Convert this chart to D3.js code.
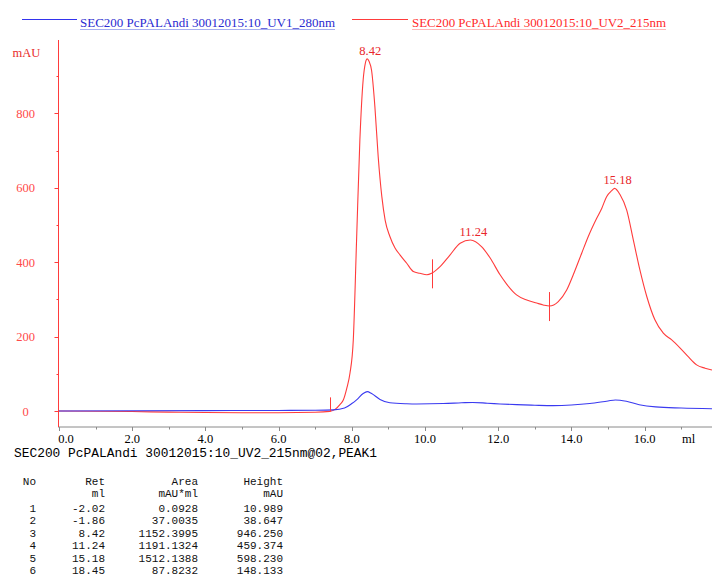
<!DOCTYPE html>
<html><head><meta charset="utf-8">
<script src="https://cdn.jsdelivr.net/npm/d3@7"></script>
<style>
html,body{margin:0;padding:0;background:#fff;}
svg{display:block;}
</style></head>
<body>
<svg id="chart" width="712" height="581"></svg>
<script>
// ---------- data ----------
const legendLabels = ["SEC200 PcPALAndi 30012015:10_UV1_280nm", "SEC200 PcPALAndi 30012015:10_UV2_215nm"];
const xTicks = [0, 2, 4, 6, 8, 10, 12, 14, 16];
const xTickLabels = ["0.0", "2.0", "4.0", "6.0", "8.0", "10.0", "12.0", "14.0", "16.0"];
const yTicks = [0, 200, 400, 600, 800];
const yTickLabels = ["0", "200", "400", "600", "800"];

const uv2Ml = [0, 1.0, 2.0, 3.0, 4.0, 5.0, 6.0, 7.0, 7.40, 7.55, 7.68, 7.77, 7.86, 7.95, 8.04, 8.13, 8.22, 8.31, 8.37, 8.42, 8.47, 8.54, 8.63, 8.72, 8.82, 8.91, 9.04, 9.18, 9.32, 9.50, 9.68, 9.86, 10.05, 10.18, 10.41, 10.68, 10.96, 11.24, 11.55, 11.78, 12.05, 12.23, 12.50, 12.78, 13.05, 13.23, 13.40, 13.64, 13.87, 14.05, 14.28, 14.46, 14.69, 14.83, 14.96, 15.10, 15.18, 15.33, 15.51, 15.69, 15.87, 16.06, 16.28, 16.51, 16.74, 16.97, 17.19, 17.42, 17.65, 17.84];
const uv2MAU = [0, -0.5, -1.5, -3, -4, -4.5, -4.5, -3.5, -1, 5, 18, 30, 60, 102, 191, 460, 728, 890, 935, 946.25, 940, 915, 818, 684, 576, 513, 469, 438, 419, 397, 375, 370, 366, 370, 388, 419, 451, 459.37, 441, 411, 366, 341, 312, 298, 290, 285, 282, 294, 325, 366, 424, 469, 518, 545, 576, 592, 598.23, 581, 540, 460, 379, 307, 245, 209, 191, 169, 146, 124, 115, 110];

const uv1Ml = [0, 2, 4, 6, 7.0, 7.5, 7.8, 8.0, 8.13, 8.31, 8.42, 8.54, 8.77, 9.04, 9.5, 9.77, 10.5, 11.0, 11.3, 11.7, 12.05, 12.5, 13.0, 13.5, 14.0, 14.5, 15.0, 15.2, 15.5, 15.85, 16.3, 17.0, 17.84];
const uv1MAU = [0, 0.5, 1, 1.5, 2, 3, 8, 20, 30, 47, 52, 47, 31, 22, 19.5, 19, 20, 22, 23, 21, 19, 17, 15.5, 14.5, 16, 20, 27, 29.6, 26, 17, 11, 8, 6];

const peakRet = [8.42, 11.24, 15.18];
const peakHeight = [946.25, 459.374, 598.23];
const peakLabels = ["8.42", "11.24", "15.18"];
const markerMl = [7.40, 10.18, 13.40];
const markerMAU = [-1, 370, 282];

const footerText = "SEC200 PcPALAndi 30012015:10_UV2_215nm@02,PEAK1";
const tableHead1 = ["No", "Ret", "Area", "Height"];
const tableHead2 = ["", "ml", "mAU*ml", "mAU"];
const tableNo = ["1", "2", "3", "4", "5", "6"];
const tableRet = ["-2.02", "-1.86", "8.42", "11.24", "15.18", "18.45"];
const tableArea = ["0.0928", "37.0035", "1152.3995", "1191.1324", "1512.1388", "87.8232"];
const tableHeight = ["10.989", "38.647", "946.250", "459.374", "598.230", "148.133"];

// ---------- drawing ----------
const svg = d3.select("#chart");
const RED = "#ff3b3b", BLUE = "#3a3af0";
const serif = "'Liberation Serif','Times New Roman',serif";
const mono = "'Liberation Mono','Courier New',monospace";

const x = d3.scaleLinear().domain([0, 17.84]).range([59, 712]);
const y = d3.scaleLinear().domain([0, 800]).range([411, 113.3]);

// x axis
const xAxisG = svg.append("g").attr("transform", "translate(0,427)");
xAxisG.append("line").attr("x1", 58).attr("x2", 712).attr("y1", 0).attr("y2", 0).attr("stroke", "#8a8a8a");
const xMinor = d3.range(1, 18, 2);
xAxisG.selectAll(".xmaj").data(xTicks).join("line")
  .attr("x1", d => Math.round(x(d)) + 0.5).attr("x2", d => Math.round(x(d)) + 0.5)
  .attr("y1", 0).attr("y2", 4).attr("stroke", "#8a8a8a");
xAxisG.selectAll(".xmin").data(xMinor).join("line")
  .attr("x1", d => Math.round(x(d)) + 0.5).attr("x2", d => Math.round(x(d)) + 0.5)
  .attr("y1", 0).attr("y2", 2.5).attr("stroke", "#8a8a8a");
xAxisG.selectAll(".xlab").data(xTicks).join("text")
  .attr("x", (d, i) => i === 0 ? x(d) + 7 : x(d))
  .attr("y", 16).attr("text-anchor", "middle")
  .attr("font-family", serif).attr("font-size", 12.5).attr("fill", "#000")
  .text((d, i) => xTickLabels[i]);
xAxisG.append("text").attr("x", 682).attr("y", 16)
  .attr("font-family", serif).attr("font-size", 12.5).attr("fill", "#000").text("ml");

// y axis
const yAxisG = svg.append("g");
yAxisG.append("line").attr("x1", 58.5).attr("x2", 58.5).attr("y1", 40).attr("y2", 427).attr("stroke", RED);
const yMinor = d3.range(100, 1000, 200);
yAxisG.selectAll(".ymaj").data(yTicks).join("line")
  .attr("x1", 54.5).attr("x2", 58.5)
  .attr("y1", d => Math.round(y(d)) + 0.5).attr("y2", d => Math.round(y(d)) + 0.5).attr("stroke", RED);
yAxisG.selectAll(".ymin").data(yMinor).join("line")
  .attr("x1", 56.5).attr("x2", 58.5)
  .attr("y1", d => Math.round(y(d)) + 0.5).attr("y2", d => Math.round(y(d)) + 0.5).attr("stroke", RED);
yAxisG.selectAll(".ylab").data(yTicks).join("text")
  .attr("x", 25.5).attr("y", d => y(d) + 4.5).attr("text-anchor", "middle")
  .attr("font-family", serif).attr("font-size", 12.5).attr("fill", "#ff4a4a")
  .text((d, i) => yTickLabels[i]);
svg.append("text").attr("x", 26.5).attr("y", 57).attr("text-anchor", "middle")
  .attr("font-family", serif).attr("font-size", 12.5).attr("fill", "#e82a2a").text("mAU");

// legend
const legendItems = [
  {lx1: 22, lx2: 77, tx: 80, tw: 255, color: "#3333ee", text: "#2a2ad0", ul: "#a8b0f0"},
  {lx1: 352, lx2: 408, tx: 412, tw: 254, color: RED, text: "#ff2a2a", ul: "#ffb8b8"}
];
legendItems.forEach((it, i) => {
  svg.append("line").attr("x1", it.lx1).attr("x2", it.lx2).attr("y1", 19.5).attr("y2", 19.5).attr("stroke", it.color);
  svg.append("text").attr("x", it.tx).attr("y", 27).attr("font-family", serif).attr("font-size", 13)
    .attr("fill", it.text).attr("textLength", it.tw).attr("lengthAdjust", "spacingAndGlyphs").text(legendLabels[i]);
  svg.append("line").attr("x1", it.tx).attr("x2", it.tx + it.tw).attr("y1", 29.5).attr("y2", 29.5).attr("stroke", it.ul);
});

// traces
const line = d3.line().x(d => x(d[0])).y(d => y(d[1])).curve(d3.curveMonotoneX);
const uv1 = uv1Ml.map((m, i) => [m, uv1MAU[i]]);
const uv2 = uv2Ml.map((m, i) => [m, uv2MAU[i]]);
svg.append("path").datum(uv2).attr("d", line).attr("fill", "none").attr("stroke", RED).attr("stroke-width", 1.1);
svg.append("path").datum(uv1).attr("d", line).attr("fill", "none").attr("stroke", BLUE).attr("stroke-width", 1.1);

// peak markers
svg.selectAll(".mark").data(markerMl).join("line")
  .attr("x1", d => Math.round(x(d)) + 0.5).attr("x2", d => Math.round(x(d)) + 0.5)
  .attr("y1", (d, i) => y(markerMAU[i]) - 14)
  .attr("y2", (d, i) => i === 0 ? y(markerMAU[i]) : y(markerMAU[i]) + 15)
  .attr("stroke", RED);

// peak labels
svg.selectAll(".plab").data(peakRet).join("text")
  .attr("x", d => x(d) + 3).attr("y", (d, i) => y(peakHeight[i]) - 4)
  .attr("text-anchor", "middle").attr("font-family", serif).attr("font-size", 12.5).attr("fill", "#e8262b")
  .text((d, i) => peakLabels[i]);

// footer and table
svg.append("text").attr("x", 14).attr("y", 457).attr("font-family", mono).attr("font-size", 12.5)
  .attr("fill", "#000").attr("textLength", 363).attr("lengthAdjust", "spacingAndGlyphs").text(footerText);

const colRight = [36, 105, 198, 283];
const tbl = svg.append("g").attr("font-family", mono).attr("font-size", 11).attr("fill", "#111").attr("text-anchor", "end");
const headY = [485, 497];
const rowY0 = 512, rowStep = 12.4;
tableHead1.forEach((t, c) => tbl.append("text").attr("x", colRight[c]).attr("y", headY[0]).text(t));
tableHead2.forEach((t, c) => { if (t) tbl.append("text").attr("x", colRight[c]).attr("y", headY[1]).text(t); });
const cols = [tableNo, tableRet, tableArea, tableHeight];
tableNo.forEach((_, r) => {
  cols.forEach((col, c) => {
    tbl.append("text").attr("x", colRight[c]).attr("y", rowY0 + rowStep * r).text(col[r]);
  });
});
</script>
</body></html>
